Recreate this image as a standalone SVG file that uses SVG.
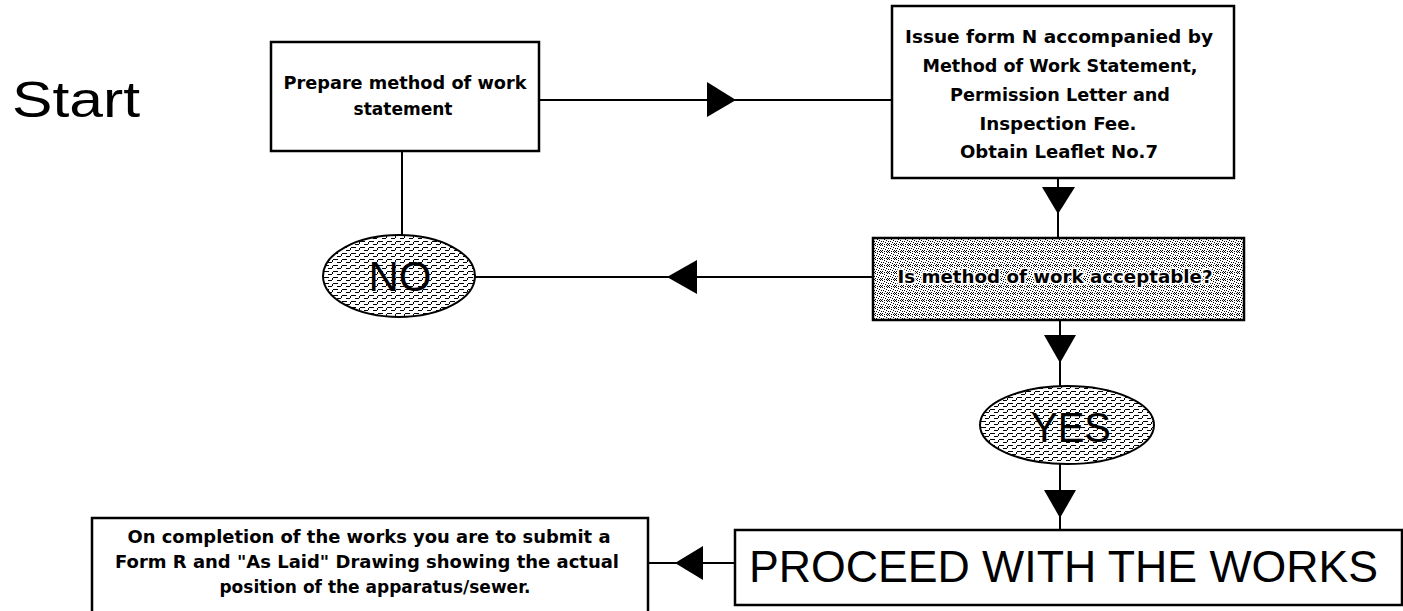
<svg xmlns="http://www.w3.org/2000/svg" width="1403" height="611" viewBox="0 0 1403 611">
<defs>
<pattern id="stip" width="7" height="7" patternUnits="userSpaceOnUse">
<rect width="7" height="7" fill="#fff"/>
<rect x="0" y="0" width="1" height="1" fill="#000"/>
<rect x="2" y="1" width="1" height="1" fill="#000"/>
<rect x="5" y="0" width="1" height="1" fill="#000"/>
<rect x="4" y="2" width="1" height="1" fill="#000"/>
<rect x="1" y="3" width="1" height="1" fill="#000"/>
<rect x="6" y="3" width="1" height="1" fill="#000"/>
<rect x="3" y="4" width="1" height="1" fill="#000"/>
<rect x="0" y="5" width="1" height="1" fill="#000"/>
<rect x="5" y="5" width="1" height="1" fill="#000"/>
<rect x="2" y="6" width="1" height="1" fill="#000"/>
<rect x="6" y="6" width="1" height="1" fill="#000"/>
<rect x="4" y="6" width="1" height="1" fill="#000"/>
</pattern>
<pattern id="dash" width="9" height="6" patternUnits="userSpaceOnUse">
<rect width="9" height="6" fill="#fff"/>
<rect x="0" y="1" width="5" height="1" fill="#000"/>
<rect x="4" y="4" width="4" height="1" fill="#000"/>
<rect x="8" y="2" width="1" height="2" fill="#000"/>
</pattern>
</defs>
<style>
.box{fill:#fff;stroke:#000;stroke-width:2.5}
.dec{fill:url(#stip);stroke:#000;stroke-width:2.5}
.ell{fill:url(#dash);stroke:#000;stroke-width:2}
.ln{stroke:#000;stroke-width:2;fill:none}
.ah{fill:#000}
.t{font-family:"DejaVu Sans",Verdana,sans-serif;font-weight:bold;font-size:17px;fill:#000;text-anchor:middle}
.big{font-family:"Liberation Sans",Arial,sans-serif;fill:#000}
.halo{stroke:#fff;stroke-width:3;paint-order:stroke}
</style>
<text class="big" x="12" y="117" font-size="50" textLength="128" lengthAdjust="spacingAndGlyphs">Start</text>
<g id="connectors">
<line class="ln" x1="539" y1="100" x2="892" y2="100"/>
<polygon class="ah" points="707,82 707,117 736,100"/>
<line class="ln" x1="1058" y1="178" x2="1058" y2="238"/>
<polygon class="ah" points="1042,187 1075,187 1058,214"/>
<line class="ln" x1="873" y1="277" x2="475" y2="277"/>
<polygon class="ah" points="697,260 697,294 667,277"/>
<line class="ln" x1="402" y1="151" x2="402" y2="235"/>
<line class="ln" x1="1060" y1="320" x2="1060" y2="386"/>
<polygon class="ah" points="1044,335 1076,335 1060,363"/>
<line class="ln" x1="1060" y1="464" x2="1060" y2="530"/>
<polygon class="ah" points="1044,490 1076,490 1060,518"/>
<line class="ln" x1="735" y1="563" x2="648" y2="563"/>
<polygon class="ah" points="703,546 703,580 675,563"/>
</g>
<g id="prepare">
<rect class="box" x="271" y="42" width="268" height="109"/>
<text class="t" x="405" y="89" textLength="243" lengthAdjust="spacingAndGlyphs">Prepare method of work</text>
<text class="t" x="403" y="115">statement</text>
</g>
<g id="issue">
<rect class="box" x="892" y="6" width="342" height="172"/>
<text class="t" x="1059" y="43" textLength="308" lengthAdjust="spacingAndGlyphs">Issue form N accompanied by</text>
<text class="t" x="1060" y="72" textLength="275" lengthAdjust="spacingAndGlyphs">Method of Work Statement,</text>
<text class="t" x="1060" y="101" textLength="220" lengthAdjust="spacingAndGlyphs">Permission Letter and</text>
<text class="t" x="1058" y="130" textLength="157" lengthAdjust="spacingAndGlyphs">Inspection Fee.</text>
<text class="t" x="1059" y="158" textLength="198" lengthAdjust="spacingAndGlyphs">Obtain Leaflet No.7</text>
</g>
<g id="decision">
<rect class="dec" x="873" y="238" width="371" height="82"/>
<text class="t halo" x="1055" y="283" textLength="315" lengthAdjust="spacingAndGlyphs">Is method of work acceptable?</text>
</g>
<g id="no">
<ellipse class="ell" cx="399" cy="276" rx="76" ry="41"/>
<text class="big" x="400" y="291" font-size="42" text-anchor="middle">NO</text>
</g>
<g id="yes">
<ellipse class="ell" cx="1067" cy="425" rx="87" ry="39"/>
<text class="big" x="1071" y="442" font-size="42" text-anchor="middle" textLength="80" lengthAdjust="spacingAndGlyphs">YES</text>
</g>
<g id="proceed">
<rect class="box" x="735" y="530" width="667" height="75"/>
<text class="big" x="749" y="582" font-size="44" textLength="629" lengthAdjust="spacingAndGlyphs">PROCEED WITH THE WORKS</text>
</g>
<g id="completion">
<rect class="box" x="92" y="518" width="556" height="100"/>
<text class="t" x="369" y="543" textLength="483" lengthAdjust="spacingAndGlyphs">On completion of the works you are to submit a</text>
<text class="t" x="367" y="568" textLength="504" lengthAdjust="spacingAndGlyphs">Form R and "As Laid" Drawing showing the actual</text>
<text class="t" x="375" y="593">position of the apparatus/sewer.</text>
</g>
</svg>
